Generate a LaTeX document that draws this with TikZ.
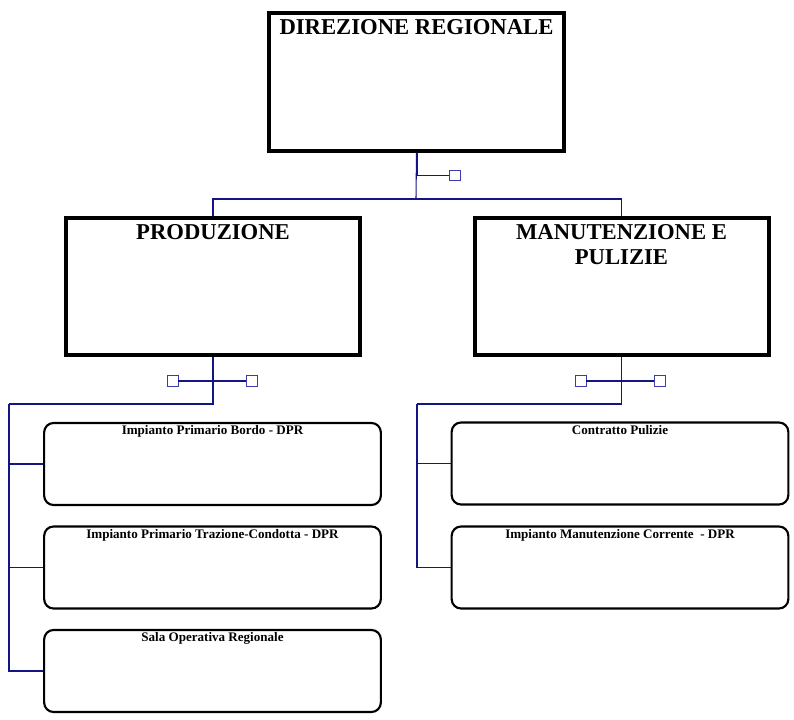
\documentclass[tikz,border=0pt]{standalone}
\usepackage{fontspec}
\setmainfont{Liberation Serif}
\definecolor{navyline}{RGB}{20,20,130}
\definecolor{sqblue}{RGB}{60,60,170}
\begin{document}
\begin{tikzpicture}[x=0.75pt,y=-0.75pt,
  bigbox/.style={draw=black,line width=3pt,fill=white,minimum width=220.5pt,minimum height=102.75pt,inner sep=0pt},
  subbox/.style={draw=black,line width=1.6pt,rounded corners=7pt,fill=white,minimum width=252.5pt,minimum height=61.5pt,inner sep=0pt},
  bigtitle/.style={anchor=north,inner sep=2.5pt,yshift=-3.5pt,font=\fontsize{17}{19}\selectfont\bfseries,align=center},
  subtitle/.style={anchor=north,inner sep=1.5pt,yshift=-1pt,font=\fontsize{9.8}{11}\selectfont\bfseries},
  conn/.style={draw=navyline,line width=0.8pt},
  sq/.style={draw=sqblue,fill=white,line width=0.7pt,minimum size=8.2pt,inner sep=0pt},
]
\useasboundingbox (0,0) rectangle (794,720);
% main boxes
\node[bigbox,minimum width=221.25pt,minimum height=103.5pt,
  label={[bigtitle]north:DIREZIONE REGIONALE}] (dir) at (416.5,82) {};
\node[bigbox,label={[bigtitle]north:PRODUZIONE}] (prod) at (213,286.5) {};
\node[bigbox,label={[bigtitle]north:MANUTENZIONE E\\PULIZIE}] (man) at (621.5,286.5) {};
% sub boxes
\node[subbox,label={[subtitle]north:Impianto Primario Bordo - DPR}] (p1) at (212.5,464) {};
\node[subbox,label={[subtitle]north:Impianto Primario Trazione-Condotta - DPR}] (p2) at (212.5,567.5) {};
\node[subbox,label={[subtitle]north:Sala Operativa Regionale}] (p3) at (212.5,671) {};
\node[subbox,label={[subtitle]north:Contratto Pulizie}] (m1) at (620,463.5) {};
\node[subbox,label={[subtitle]north:Impianto Manutenzione Corrente\ \ - DPR}] (m2) at (620,567.5) {};
% coordinates
\coordinate (hy) at (416,199);
\coordinate (pl) at (9,404);
\coordinate (ml) at (417,404);
% top connector
\draw[conn] (dir.south) -- (hy);
\draw[conn,line width=1.5pt] (dir.south) -- ++(0,22);
\draw[conn] (prod.north) |- (hy) -| (man.north);
\node[sq] (s0) at (454.5,175.5) {};
\draw[conn] (dir.south |- s0) -- (s0.west);
% produzione branch
\node[sq] (s1) at (172.5,381) {};
\node[sq] (s2) at (251.5,381) {};
\draw[conn] (s1.east) -- (s2.west);
\draw[conn] (prod.south) |- (pl);
\draw[conn] (pl) |- (p3.west);
\draw[conn] (pl |- p1.west) -- (p1.west);
\draw[conn] (pl |- p2.west) -- (p2.west);
% manutenzione branch
\node[sq] (s3) at (580.5,381) {};
\node[sq] (s4) at (659.5,381) {};
\draw[conn] (s3.east) -- (s4.west);
\draw[conn] (man.south) |- (ml);
\draw[conn] (ml) |- (m2.west);
\draw[conn] (ml |- m1.west) -- (m1.west);
\end{tikzpicture}
\end{document}
